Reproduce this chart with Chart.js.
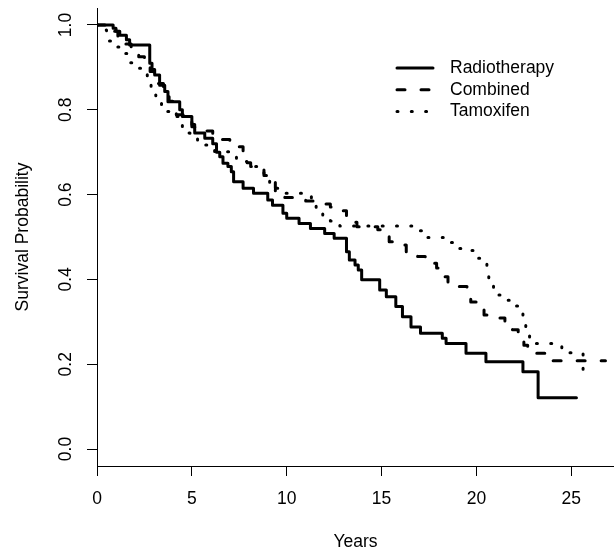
<!DOCTYPE html>
<html>
<head>
<meta charset="utf-8">
<script src="https://cdn.jsdelivr.net/npm/chart.js@4.4.1/dist/chart.umd.min.js"></script>
<style>
html,body{margin:0;padding:0;background:#fff;}
#wrap{width:614px;height:556px;position:relative;}
</style>
</head>
<body>
<div id="wrap"><canvas id="c" width="614" height="556"></canvas></div>
<script>
// ---- data ----
const seriesNames = ["Radiotherapy", "Combined", "Tamoxifen"];

const radioTime = [0, 0.85, 1.0, 1.2, 1.55, 1.72, 2.78, 2.9, 3.04, 3.3, 3.57, 3.74, 4.36, 4.5, 5.0, 5.15, 5.68, 6.1, 6.3, 6.47, 6.64, 6.9, 7.08, 7.2, 7.7, 8.25, 9.0, 9.25, 9.8, 10.0, 10.65, 11.25, 12.0, 12.5, 13.15, 13.3, 13.6, 13.77, 13.95, 14.9, 15.25, 15.75, 16.1, 16.55, 17.05, 18.2, 18.4, 19.45, 20.5, 22.45, 23.25, 25.27];
const radioSurv = [1.0, 0.992, 0.985, 0.976, 0.965, 0.953, 0.91, 0.895, 0.882, 0.858, 0.843, 0.819, 0.80, 0.784, 0.76, 0.745, 0.733, 0.72, 0.70, 0.689, 0.674, 0.666, 0.654, 0.63, 0.615, 0.603, 0.587, 0.575, 0.556, 0.544, 0.532, 0.52, 0.508, 0.497, 0.465, 0.446, 0.434, 0.422, 0.399, 0.375, 0.359, 0.336, 0.312, 0.288, 0.273, 0.261, 0.249, 0.226, 0.206, 0.182, 0.121, 0.121];

const combTime = [0, 0.8, 1.1, 1.5, 1.8, 2.2, 2.5, 2.8, 3.0, 3.2, 3.5, 3.8, 4.0, 4.18, 4.6, 5.0, 5.15, 5.6, 6.1, 6.6, 7.0, 7.3, 7.7, 7.9, 8.1, 8.4, 8.8, 9.2, 9.4, 9.55, 9.9, 11.0, 11.8, 12.3, 12.8, 13.15, 13.5, 13.7, 14.8, 15.2, 15.4, 16.0, 16.3, 16.9, 17.3, 17.9, 18.1, 18.5, 19.0, 19.5, 19.7, 20.2, 20.4, 21.0, 21.5, 21.9, 22.2, 22.5, 22.7, 23.75, 26.8];
const combSurv = [1.0, 0.985, 0.972, 0.955, 0.937, 0.925, 0.91, 0.89, 0.875, 0.862, 0.84, 0.82, 0.80, 0.788, 0.775, 0.765, 0.759, 0.75, 0.74, 0.73, 0.725, 0.713, 0.693, 0.675, 0.666, 0.66, 0.645, 0.63, 0.615, 0.607, 0.593, 0.585, 0.578, 0.571, 0.562, 0.544, 0.535, 0.524, 0.517, 0.502, 0.489, 0.481, 0.462, 0.454, 0.438, 0.427, 0.406, 0.39, 0.383, 0.367, 0.347, 0.332, 0.316, 0.309, 0.297, 0.281, 0.262, 0.245, 0.226, 0.208, 0.208];

const tamTime = [0, 0.3, 0.5, 0.65, 1.0, 1.3, 1.6, 2.0, 2.4, 2.65, 2.85, 3.1, 3.4, 3.9, 4.3, 4.5, 4.9, 5.3, 5.8, 6.2, 7.0, 7.35, 7.9, 8.5, 8.8, 9.1, 9.4, 11.3, 11.55, 11.9, 12.3, 12.8, 17.0, 17.4, 18.55, 19.0, 19.5, 19.9, 20.35, 20.55, 20.65, 20.9, 21.35, 21.85, 22.3, 22.45, 22.6, 22.8, 24.5, 25.62];
const tamSurv = [1.0, 0.988, 0.975, 0.962, 0.948, 0.933, 0.911, 0.898, 0.886, 0.858, 0.835, 0.817, 0.796, 0.784, 0.768, 0.745, 0.733, 0.717, 0.709, 0.701, 0.693, 0.678, 0.666, 0.654, 0.642, 0.622, 0.603, 0.589, 0.568, 0.552, 0.538, 0.526, 0.515, 0.499, 0.487, 0.473, 0.468, 0.45, 0.436, 0.413, 0.387, 0.363, 0.351, 0.337, 0.326, 0.298, 0.273, 0.249, 0.227, 0.175];

const xTicks = [0, 5, 10, 15, 20, 25];
const yTicks = [0.0, 0.2, 0.4, 0.6, 0.8, 1.0];
const xTitle = "Years";
const yTitle = "Survival Probability";

// ---- styling ----
const FONT = '17.5px "Liberation Sans", Arial, Helvetica, sans-serif';
const dashes = [[], [8, 16], [1, 13.3]];
const toXY = (t, s) => t.map((v, i) => ({x: v, y: s[i]}));

function mkSet(label, data, dash) {
  return {
    label: label,
    data: data,
    stepped: 'before',
    borderColor: '#000',
    borderWidth: 3,
    borderDash: dash,
    borderCapStyle: 'round',
    borderJoinStyle: 'round',
    pointRadius: 0,
    pointHoverRadius: 0,
    fill: false,
    tension: 0
  };
}

const rPlugin = {
  id: 'rStyle',
  afterDraw(chart) {
    const ctx = chart.ctx;
    const xs = chart.scales.x, ys = chart.scales.y;
    const ca = chart.chartArea;
    ctx.save();
    ctx.fillStyle = '#000';
    ctx.font = FONT;
    ctx.textAlign = 'center';
    ctx.textBaseline = 'middle';
    xTicks.forEach(v => ctx.fillText(String(v), xs.getPixelForValue(v), ca.bottom + 33));
    yTicks.forEach(v => {
      ctx.save();
      ctx.translate(ca.left - 31, ys.getPixelForValue(v));
      ctx.rotate(-Math.PI / 2);
      ctx.fillText(v.toFixed(1), 0, 0);
      ctx.restore();
    });
    ctx.fillText(xTitle, (ca.left + ca.right) / 2, ca.bottom + 76);
    ctx.save();
    ctx.translate(ca.left - 74, (ca.top + ca.bottom) / 2);
    ctx.rotate(-Math.PI / 2);
    ctx.fillText(yTitle, 0, 0);
    ctx.restore();

    // legend
    const lx0 = 397, lx1 = 433, tx = 450, ly0 = 68, dy = 21.7;
    seriesNames.forEach((name, i) => {
      const y = ly0 + i * dy;
      ctx.save();
      ctx.strokeStyle = '#000';
      ctx.lineWidth = 3;
      ctx.lineCap = 'round';
      ctx.setLineDash(dashes[i]);
      ctx.beginPath();
      ctx.moveTo(lx0, y);
      ctx.lineTo(lx1, y);
      ctx.stroke();
      ctx.restore();
      ctx.textAlign = 'left';
      ctx.fillText(name, tx, y);
    });
    ctx.restore();
  }
};

const axisCommon = {
  type: 'linear',
  grid: {display: true, drawOnChartArea: false, drawTicks: true, tickLength: 10, color: '#000', lineWidth: 1},
  border: {display: true, color: '#000', width: 1},
  ticks: {display: false}
};

new Chart(document.getElementById('c'), {
  type: 'line',
  data: {
    datasets: [
      mkSet(seriesNames[0], toXY(radioTime, radioSurv), dashes[0]),
      mkSet(seriesNames[1], toXY(combTime, combSurv), dashes[1]),
      mkSet(seriesNames[2], toXY(tamTime, tamSurv), dashes[2])
    ]
  },
  options: {
    responsive: false,
    animation: false,
    devicePixelRatio: 1,
    layout: {padding: {top: 8, left: 0, right: 0, bottom: 0}},
    plugins: {legend: {display: false}, tooltip: {enabled: false}},
    scales: {
      x: Object.assign({}, axisCommon, {
        position: 'bottom', min: 0, max: 27.25,
        afterBuildTicks: s => { s.ticks = xTicks.map(v => ({value: v})); },
        afterFit: s => { s.height = 90; }
      }),
      y: Object.assign({}, axisCommon, {
        position: 'left', min: -0.04, max: 1.04,
        afterBuildTicks: s => { s.ticks = yTicks.map(v => ({value: v})); },
        afterFit: s => { s.width = 97; }
      })
    }
  },
  plugins: [rPlugin]
});
</script>
</body>
</html>
